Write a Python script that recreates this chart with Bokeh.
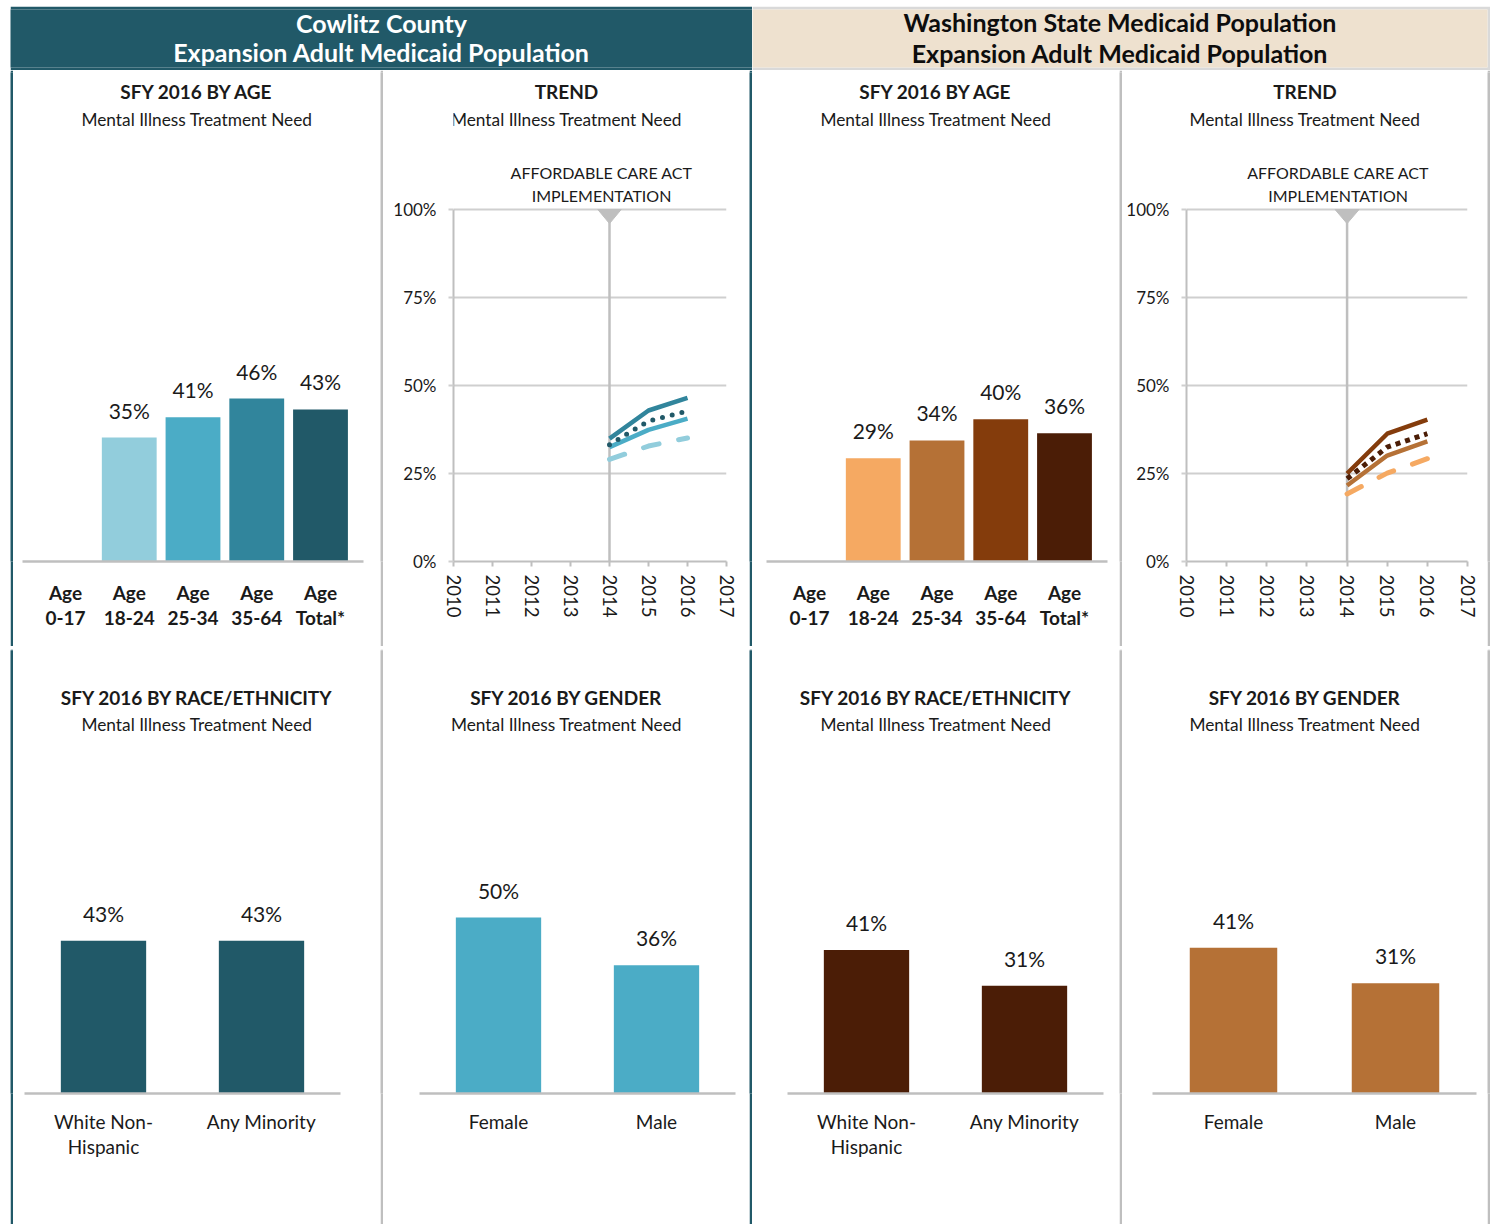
from bokeh.plotting import figure
from bokeh.layouts import row, column
from bokeh.models import FactorRange, Range1d, FixedTicker, NumeralTickFormatter, Spacer
from bokeh.core.properties import value
from bokeh.embed import file_html
from bokeh.resources import INLINE

# ---------------- data ----------------
age_groups = ["Age\n0-17", "Age\n18-24", "Age\n25-34", "Age\n35-64", "Age\nTotal*"]
cowlitz_age = [None, 0.352, 0.41, 0.463, 0.432]
wa_age = [None, 0.293, 0.344, 0.404, 0.364]

axis_years = [2010, 2011, 2012, 2013, 2014, 2015, 2016, 2017]
trend_years = [2014, 2015, 2016]
aca_year = 2014
pct_ticks = [0, 0.25, 0.5, 0.75, 1.0]

cow_trend_18_24 = [0.290, 0.328, 0.351]
cow_trend_25_34 = [0.325, 0.374, 0.406]
cow_trend_35_64 = [0.349, 0.429, 0.465]
cow_trend_total = [0.332, 0.399, 0.427]

wa_trend_18_24 = [0.192, 0.251, 0.292]
wa_trend_25_34 = [0.216, 0.301, 0.341]
wa_trend_35_64 = [0.250, 0.363, 0.403]
wa_trend_total = [0.235, 0.325, 0.363]

race_groups = ["White Non-\nHispanic", "Any Minority"]
cowlitz_race = [0.434, 0.434]
wa_race = [0.408, 0.306]

gender_groups = ["Female", "Male"]
cowlitz_gender = [0.50, 0.364]
wa_gender = [0.414, 0.313]

# ---------------- styles ----------------
FONT = "Lato"
TXT = "#1A1A1A"
GRAY = "#BFBFBF"
GRID = "#CFCFCF"
TEAL = "#215968"
BEIGE = "#EEE1CF"
HDR_BORDER = "#D9D9D9"
SUBTITLE = "Mental Illness Treatment Need"

cow_age_colors = ["#D5EBF1", "#92CDDC", "#4BACC6", "#31859C", "#215968"]
wa_age_colors = ["#FAD3B0", "#F5A962", "#B57136", "#843C0C", "#4B1D06"]
cow_line_colors = ["#92CDDC", "#4BACC6", "#31859C", "#215968"]
wa_line_colors = ["#F5A962", "#B57136", "#843C0C", "#4B1D06"]

PX = 352.0  # pixels for 100%


def base_fig(W, H, ml, mr, mt, mb, x_range, y_range, **kw):
    p = figure(width=W, height=H, x_range=x_range, y_range=y_range,
               min_border_left=ml, min_border_right=mr,
               min_border_top=mt, min_border_bottom=mb,
               output_backend="svg", toolbar_location=None, **kw)
    p.outline_line_color = None
    p.background_fill_color = "white"
    p.border_fill_color = "white"
    return p


def center_x(W, ml, mr, start, end):
    fw = W - ml - mr
    return start + (W / 2.0 - ml) / fw * (end - start)


def add_titles(p, x, y_title, y_sub, title):
    p.text(x=[x], y=[y_title], text=[title], text_font=value(FONT),
           text_font_size="19px", text_font_style="bold", text_color=TXT,
           text_align="center", text_baseline="middle")
    p.text(x=[x], y=[y_sub], text=[SUBTITLE], text_font=value(FONT),
           text_font_size="17.3px", text_color=TXT,
           text_align="center", text_baseline="middle")


def bar_panel(W, H, ml, mr, mt, mb, factors, vals, colors, title, pad, bar_w,
              lab_size, lab_bold, lab_standoff, lab_lh, title_px, sub_px):
    frame_h = H - mt - mb
    y_end = frame_h / PX
    xr = FactorRange(factors=factors, range_padding=pad, range_padding_units="absolute")
    p = base_fig(W, H, ml, mr, mt, mb, xr, Range1d(0, y_end), y_axis_location=None)
    keep = [i for i, v in enumerate(vals) if v is not None]
    xs = [factors[i] for i in keep]
    tops = [vals[i] for i in keep]
    cols = [colors[i] for i in keep]
    labels = ["%d%%" % round(v * 100) for v in tops]
    p.vbar(x=xs, top=tops, width=bar_w, fill_color=cols, line_color=None)
    p.text(x=xs, y=tops, text=labels, y_offset=-15, text_font=value(FONT),
           text_font_size="21px", text_color=TXT, text_align="center",
           text_baseline="bottom")
    ax = p.xaxis[0]
    ax.axis_line_color = GRAY
    ax.axis_line_width = 2.5
    ax.major_tick_line_color = None
    ax.minor_tick_line_color = None
    ax.major_label_text_font = FONT
    ax.major_label_text_font_size = lab_size
    ax.major_label_text_font_style = "bold" if lab_bold else "normal"
    ax.major_label_text_color = TXT
    ax.major_label_standoff = lab_standoff
    ax.major_label_text_line_height = lab_lh
    p.grid.visible = False
    cx = center_x(W, ml, mr, -pad, len(factors) + pad)
    add_titles(p, cx, title_px / PX, sub_px / PX, title)
    return p


def trend_panel(W, H, ml, mr, mt, mb, series, colors, dot_cap, aca_off):
    frame_h = H - mt - mb
    y_end = frame_h / PX
    x0, x1 = axis_years[0], axis_years[-1]
    p = base_fig(W, H, ml, mr, mt, mb, Range1d(x0, x1), Range1d(0, y_end))
    xa = p.xaxis[0]
    xa.ticker = FixedTicker(ticks=axis_years)
    xa.bounds = (x0, x1)
    xa.major_label_orientation = "vertical"
    xa.axis_line_color = GRAY
    xa.axis_line_width = 2
    xa.major_tick_line_color = GRAY
    xa.major_tick_line_width = 2
    xa.major_tick_out = 5
    xa.major_tick_in = 0
    xa.minor_tick_line_color = None
    xa.major_label_standoff = 8
    xa.major_label_text_font = FONT
    xa.major_label_text_font_size = "18.5px"
    xa.major_label_text_color = TXT
    ya = p.yaxis[0]
    ya.ticker = FixedTicker(ticks=pct_ticks)
    ya.formatter = NumeralTickFormatter(format="0%")
    ya.bounds = (0, 1)
    ya.axis_line_color = GRAY
    ya.axis_line_width = 2
    ya.major_tick_line_color = GRID
    ya.major_tick_line_width = 2
    ya.major_tick_out = 5
    ya.major_tick_in = 0
    ya.minor_tick_line_color = None
    ya.major_label_standoff = 12
    ya.major_label_text_font = FONT
    ya.major_label_text_font_size = "17px"
    ya.major_label_text_color = TXT
    p.xgrid.visible = False
    p.ygrid.grid_line_color = GRID
    p.ygrid.grid_line_width = 2

    # ACA marker line and triangle
    p.segment(x0=[aca_year], y0=[0], x1=[aca_year], y1=[1.0], line_color=GRAY, line_width=2.5)
    p.patch(x=[aca_year - 0.3, aca_year + 0.3, aca_year], y=[1.0, 1.0, 0.96],
            fill_color=GRAY, line_color=GRAY)
    p.text(x=[aca_year, aca_year], y=[389 / PX, 366 / PX],
           text=["AFFORDABLE CARE ACT", "IMPLEMENTATION"], x_offset=aca_off,
           text_font=value(FONT), text_font_size="16px", text_color=TXT,
           text_align="center", text_baseline="middle")

    s18, s25, s35, stot = series
    c18, c25, c35, ctot = colors
    p.line(trend_years, s18, line_color=c18, line_width=5, line_dash="16 20", line_cap="round")
    p.line(trend_years, s25, line_color=c25, line_width=4.5, line_join="round")
    p.line(trend_years, s35, line_color=c35, line_width=4.5, line_join="round")
    if dot_cap == "round":
        p.line(trend_years, stot, line_color=ctot, line_width=5, line_dash="0 10", line_cap="round")
    else:
        p.line(trend_years, stot, line_color=ctot, line_width=5, line_dash="5 5", line_cap="butt")

    cx = center_x(W, ml, mr, x0, x1)
    add_titles(p, cx, 470 / PX, 442 / PX, "TREND")
    return p


def header(W, H, fill, border, lines, color, bt, bb, br, ys, size):
    fh = H - bt - bb
    p = figure(width=W, height=H, x_range=Range1d(0, 1), y_range=Range1d(0, fh),
               min_border_top=bt, min_border_bottom=bb, min_border_left=0,
               min_border_right=br, x_axis_location=None, y_axis_location=None,
               toolbar_location=None, output_backend="svg")
    p.background_fill_color = fill
    p.border_fill_color = border
    p.outline_line_color = None
    p.grid.visible = False
    p.text(x=[0.5, 0.5], y=ys, text=lines, text_font=value(FONT),
           text_font_size=size, text_font_style="bold", text_color=color,
           text_align="center", text_baseline="middle")
    return p


def sep(W, H, color):
    p = figure(width=W, height=H, min_border=0, x_range=Range1d(0, 1), y_range=Range1d(0, 1),
               x_axis_location=None, y_axis_location=None, toolbar_location=None,
               output_backend="svg")
    p.background_fill_color = color
    p.border_fill_color = color
    p.outline_line_color = None
    p.grid.visible = False
    return p


TOP_H, BOT_H = 576, 575
LEFT_PAD, TOP_PAD = 10, 6
W_A, W_B, W_C, W_D = 367, 366, 367, 365
AGE_PAD = 0.1745

# Top row panels
A = bar_panel(W_A, TOP_H, 9, 17, 2, 85, age_groups, cowlitz_age, cow_age_colors,
              "SFY 2016 BY AGE", AGE_PAD, 0.86, "19px", True, 13, 1.1, 470, 442)
B = trend_panel(W_B, TOP_H, 70, 23, 2, 85,
                [cow_trend_18_24, cow_trend_25_34, cow_trend_35_64, cow_trend_total],
                cow_line_colors, "round", -8)
C = bar_panel(W_C, TOP_H, 14, 12, 2, 85, age_groups, wa_age, wa_age_colors,
              "SFY 2016 BY AGE", AGE_PAD, 0.86, "19px", True, 13, 1.1, 470, 442)
D = trend_panel(W_D, TOP_H, 64, 20, 2, 85,
                [wa_trend_18_24, wa_trend_25_34, wa_trend_35_64, wa_trend_total],
                wa_line_colors, "square", -9)

# Bottom row panels (frame height 443)
BMB = BOT_H - 1 - 443
E = bar_panel(W_A, BOT_H, 11, 40, 1, BMB, race_groups, cowlitz_race, [TEAL, TEAL],
              "SFY 2016 BY RACE/ETHNICITY", 0.0, 0.54, "19px", False, 10, 1.12, 396, 369)
F = bar_panel(W_B, BOT_H, 36, 14, 1, BMB, gender_groups, cowlitz_gender, ["#4BACC6", "#4BACC6"],
              "SFY 2016 BY GENDER", 0.0, 0.54, "19px", False, 10, 1.12, 396, 369)
G = bar_panel(W_C, BOT_H, 35, 16, 1, BMB, race_groups, wa_race, ["#4B1D06", "#4B1D06"],
              "SFY 2016 BY RACE/ETHNICITY", 0.0, 0.54, "19px", False, 10, 1.12, 396, 369)
H = bar_panel(W_D, BOT_H, 30, 11, 1, BMB, gender_groups, wa_gender, ["#B57136", "#B57136"],
              "SFY 2016 BY GENDER", 0.0, 0.54, "19px", False, 10, 1.12, 396, 369)

hl = header(742, 64, TEAL, TEAL, ["Cowlitz County", "Expansion Adult Medicaid Population"],
            "white", 0, 0, 0, [49, 17], "25px")
hr = header(738, 64, BEIGE, HDR_BORDER,
            ["Washington State Medicaid Population", "Expansion Adult Medicaid Population"],
            "#0D0D0D", 3, 3, 3, [46, 15], "25px")

TOTAL_W = LEFT_PAD + 3 + W_A + 3 + W_B + 3 + W_C + 3 + W_D + 3


def sep_row(H, pieces):
    items = [Spacer(width=LEFT_PAD, height=H)]
    for w, c in pieces:
        items.append(sep(w, H, c))
    return row(*items)


top_row = row(Spacer(width=LEFT_PAD, height=TOP_H),
              sep(3, TOP_H, TEAL), A, sep(3, TOP_H, GRAY), B, sep(3, TOP_H, TEAL),
              C, sep(3, TOP_H, GRAY), D, sep(3, TOP_H, GRAY))
mid_row = sep_row(3, [(3, TEAL), (W_A, GRAY), (3, GRAY), (W_B, GRAY), (3, TEAL),
                      (W_C, GRAY), (3, GRAY), (W_D, GRAY), (3, GRAY)])
bot_row = row(Spacer(width=LEFT_PAD, height=BOT_H),
              sep(3, BOT_H, TEAL), E, sep(3, BOT_H, GRAY), F, sep(3, BOT_H, TEAL),
              G, sep(3, BOT_H, GRAY), H, sep(3, BOT_H, GRAY))
head_row = row(Spacer(width=LEFT_PAD, height=64), hl, hr)

page = column(Spacer(width=TOTAL_W, height=TOP_PAD), head_row, top_row, mid_row, bot_row)

open("out.html", "w").write(file_html(page, INLINE))
